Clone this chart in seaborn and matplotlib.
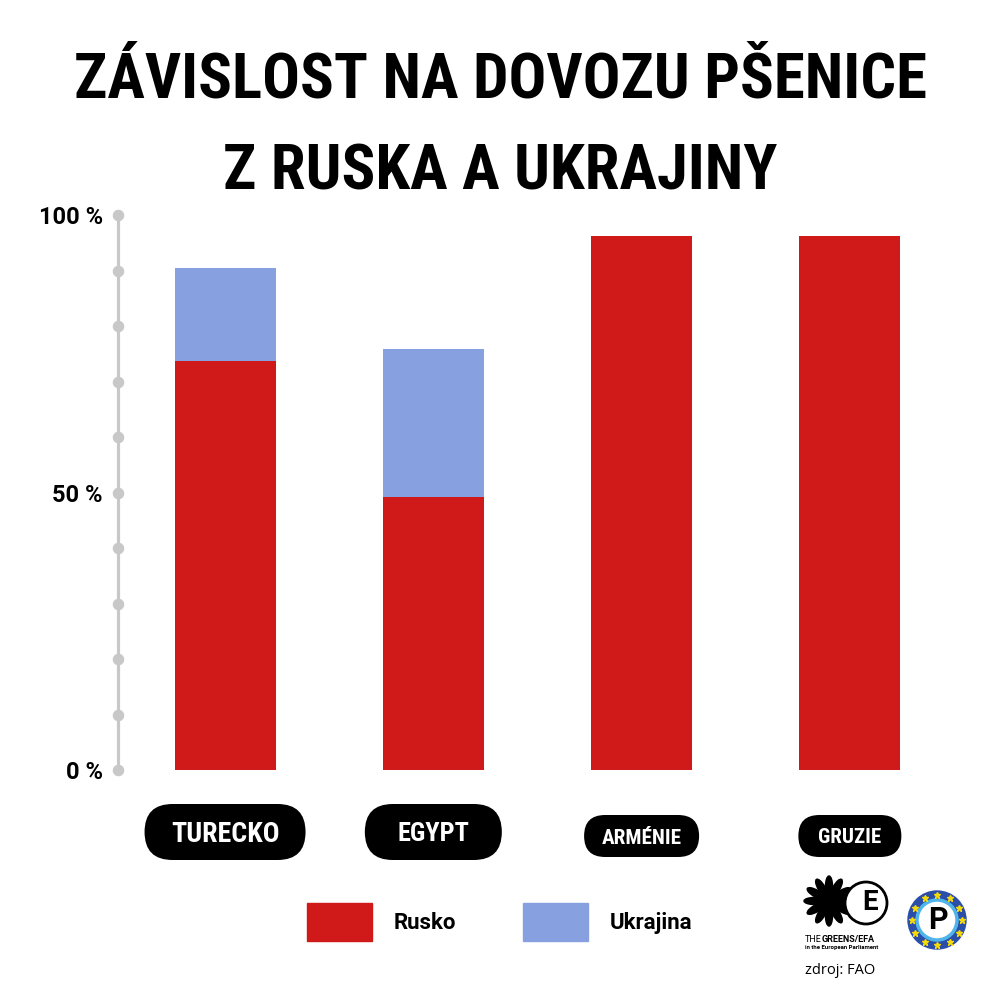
import numpy as np
import pandas as pd
import seaborn as sns
from matplotlib import pyplot as plt
from matplotlib.patches import Patch, Circle, Ellipse, FancyBboxPatch

# data (% of wheat imports)
zeme = ['TURECKO', 'EGYPT', 'ARMÉNIE', 'GRUZIE']
rusko = [73.7, 49.1, 96.2, 96.2]
ukrajina = [16.8, 26.7, 0.0, 0.0]
y_ticks = [0, 10, 20, 30, 40, 50, 60, 70, 80, 90, 100]
y_labels = {0: '0 %', 50: '50 %', 100: '100 %'}

RED = '#d01a1a'
BLUE = '#86a0e0'
GREY = '#c8c8c8'
COND_FONT = ['Roboto Condensed', 'DejaVu Sans']
LABEL_FONT = ['Roboto', 'DejaVu Sans']

df = pd.DataFrame({'zeme': zeme, 'Rusko': rusko, 'Ukrajina': ukrajina})
df['celkem'] = df['Rusko'] + df['Ukrajina']

sns.set_style('white')
plt.rcParams['font.family'] = LABEL_FONT
plt.rcParams['text.color'] = 'black'
plt.rcParams['ytick.color'] = 'black'

fig = plt.figure(figsize=(10, 10), dpi=100)
ax = fig.add_axes([0.118, 0.230, 0.836, 0.555])

sns.barplot(data=df, x='zeme', y='celkem', color=BLUE, saturation=1,
            width=0.485, linewidth=0, ax=ax)
sns.barplot(data=df, x='zeme', y='Rusko', color=RED, saturation=1,
            width=0.485, linewidth=0, ax=ax)

ax.set_xlim(-0.514, 3.5)
ax.set_ylim(0, 100)
ax.set_xlabel('')
ax.set_ylabel('')
ax.set_xticks([])
for s in ['top', 'right', 'bottom']:
    ax.spines[s].set_visible(False)
ax.spines['left'].set_color(GREY)
ax.spines['left'].set_linewidth(2.3)

ax.set_yticks(y_ticks)
ax.set_yticklabels([y_labels.get(t, '') for t in y_ticks],
                   fontsize=17, fontweight='bold', family=LABEL_FONT)
ax.tick_params(axis='y', left=True, length=0, pad=11)
for tick in ax.yaxis.get_major_ticks():
    tick.tick1line.set_marker('o')
    tick.tick1line.set_markersize(7.5)
    tick.tick1line.set_markerfacecolor(GREY)
    tick.tick1line.set_markeredgecolor(GREY)
    tick.tick1line.set_clip_on(False)

# overlay in pixel coordinates for pills and logos
lg = fig.add_axes([0, 0, 1, 1], zorder=5)
lg.set_xlim(0, 1000)
lg.set_ylim(1000, 0)
lg.axis('off')
lg.patch.set_alpha(0)

r = fig.canvas.get_renderer()


def fit_width(t, target):
    w = t.get_window_extent(r).width
    t.set_fontsize(t.get_fontsize() * target / w)


# category pills
pill_w = [161, 137, 115, 103]
pill_h = [56, 56, 42, 42]
pill_cy = [832, 832, 836, 836]
text_w = [108, 72, 80, 63]
for i, name in enumerate(zeme):
    cx = ax.transData.transform((i, 0))[0]
    lg.add_patch(FancyBboxPatch((cx - pill_w[i] / 2, pill_cy[i] - pill_h[i] / 2),
                                pill_w[i], pill_h[i],
                                boxstyle='round,pad=0,rounding_size=%d' % (pill_h[i] / 2),
                                fc='black', ec='none'))
    t = lg.text(cx, pill_cy[i], name, ha='center', va='baseline', color='white',
                fontweight='bold', fontsize=20, family=COND_FONT,
                fontstretch='condensed')
    fit_width(t, text_w[i])
    cap = t.get_fontsize() * 100 / 72 * 0.71
    t.set_y(pill_cy[i] + cap / 2)

# title
t1 = fig.text(0.5, 0.902, 'ZÁVISLOST NA DOVOZU PŠENICE', ha='center',
              va='baseline', fontsize=46, fontweight='bold', family=COND_FONT,
              fontstretch='condensed')
fit_width(t1, 850)
fig.text(0.5, 0.810, 'Z RUSKA A UKRAJINY', ha='center', va='baseline',
         fontsize=t1.get_fontsize(), fontweight='bold', family=COND_FONT,
         fontstretch='condensed')

# legend
handles = [Patch(color=RED, label='Rusko'), Patch(color=BLUE, label='Ukrajina')]
fig.legend(handles=handles, loc='center', bbox_to_anchor=(0.5, 0.078),
           ncol=2, frameon=False, handlelength=2.9, handleheight=2.3,
           handletextpad=1.0, columnspacing=3.0,
           prop={'family': LABEL_FONT, 'weight': 'bold', 'size': 16})

# logos (rough)
for a in np.arange(0, 360, 30):
    rad = np.deg2rad(a)
    lg.add_patch(Ellipse((829 + 15 * np.cos(rad), 901 + 15 * np.sin(rad)), 20, 7,
                         angle=a, color='black'))
lg.add_patch(Circle((829, 901), 6, color='black'))
lg.add_patch(Circle((866, 903), 21, fc='white', ec='black', lw=2))
lg.text(870, 903, 'E', ha='center', va='center', fontsize=20,
        fontweight='bold', family=LABEL_FONT)
th = lg.text(805, 939, 'THE', ha='left', va='center', fontsize=6.5,
             family=LABEL_FONT)
x_end = lg.transData.inverted().transform(
    (th.get_window_extent(r).x1, 0))[0]
lg.text(x_end, 939, 'GREENS/EFA', ha='left', va='center', fontsize=6.5,
        fontweight='bold', family=LABEL_FONT)
lg.text(805, 947, 'in the European Parliament', ha='left', va='center',
        fontsize=4.3, fontweight='bold', family=LABEL_FONT)

lg.add_patch(Circle((937, 920), 29, color='#2b4ea8'))
lg.add_patch(Circle((937, 920), 20, fc='white', ec='#4fb4ea', lw=2.5))
for a in np.arange(0, 360, 30):
    rad = np.deg2rad(a)
    lg.plot(937 + 25 * np.cos(rad), 920 + 25 * np.sin(rad), marker='*',
            color='#f5d90a', markersize=5)
lg.text(938, 920, 'P', ha='center', va='center', fontsize=22,
        fontweight='bold', family=LABEL_FONT)

fig.text(0.805, 0.030, 'zdroj: FAO', ha='left', va='center', fontsize=10.5,
         family=['Open Sans', 'DejaVu Sans'])

fig.savefig('out.png', dpi=100, facecolor='white')
